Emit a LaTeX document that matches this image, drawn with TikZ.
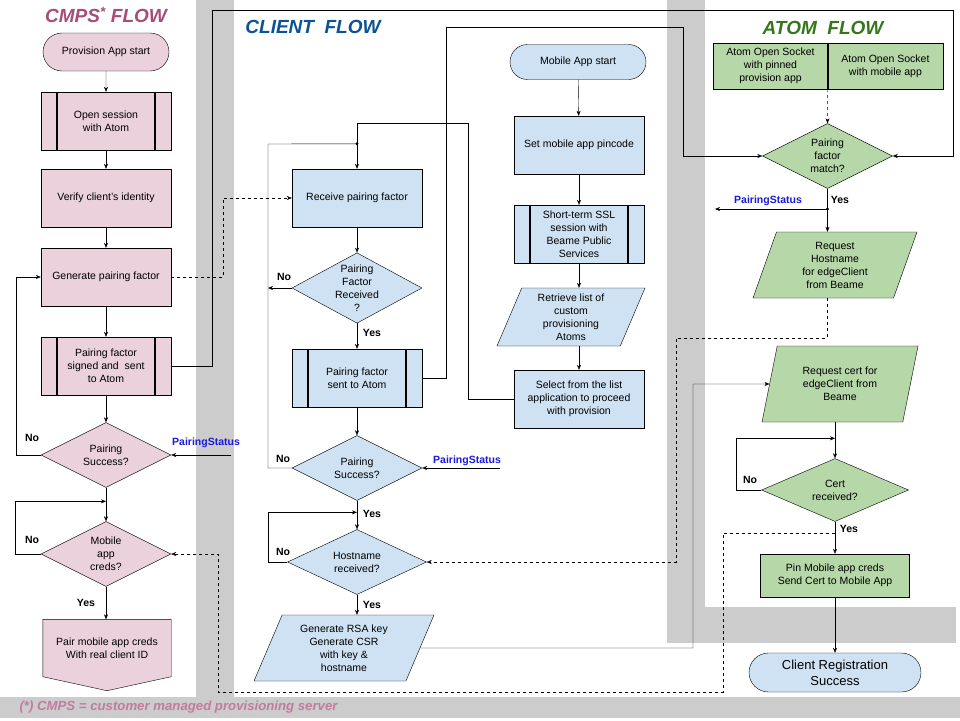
\documentclass[tikz,border=0pt]{standalone}
\usepackage{fontspec}
\setmainfont{Liberation Sans}
\usepackage{tikz}
\usetikzlibrary{arrows.meta,positioning,shapes.geometric,shapes.misc}
\usepackage{xcolor}
\definecolor{cmpspink}{HTML}{EAD1DC}
\definecolor{clientblue}{HTML}{CFE2F3}
\definecolor{atomgreen}{HTML}{B6D7A8}
\definecolor{bandgray}{HTML}{CCCCCC}
\definecolor{cmpstitle}{HTML}{A64D79}
\definecolor{clienttitle}{HTML}{0B5394}
\definecolor{atomtitle}{HTML}{38761D}
\definecolor{statusblue}{HTML}{1A1AD8}
\definecolor{notepink}{HTML}{C27BA0}
\newcommand{\nfont}{\fontsize{10.5pt}{13pt}\selectfont}
\pgfdeclarelayer{background}
\pgfsetlayers{background,main}

\begin{document}
\begin{tikzpicture}[x=1pt, y=-1pt, >={Stealth[length=5pt,width=4pt]}, line width=1.2pt,
  every node/.style={font=\nfont},
  proc/.style={draw, rectangle, minimum width=130pt, minimum height=58pt, align=center, inner sep=2pt},
  predef/.style={proc, path picture={
      \draw[line width=1.2pt] ([xshift=16pt]path picture bounding box.north west) -- ([xshift=16pt]path picture bounding box.south west);
      \draw[line width=1.2pt] ([xshift=-16pt]path picture bounding box.north east) -- ([xshift=-16pt]path picture bounding box.south east);}},
  term/.style={draw, rounded rectangle, minimum width=130pt, minimum height=38pt, align=center, inner sep=2pt},
  decision/.style={draw, diamond, minimum width=130pt, minimum height=65pt, align=center, inner sep=-5pt},
  io/.style={draw, trapezium, trapezium left angle=62, trapezium right angle=118, trapezium stretches body=true, align=center, inner sep=2pt},
  offpage/.style={rectangle, minimum width=128pt, minimum height=57pt, align=center, inner sep=2pt},
  title/.style={font=\fontsize{19pt}{22pt}\selectfont\bfseries\itshape},
  lbl/.style={font=\nfont\bfseries},
  status/.style={font=\nfont\bfseries, text=statusblue},
  note/.style={font=\fontsize{13.2pt}{15pt}\selectfont\bfseries\itshape, text=notepink}]
  \useasboundingbox (0,0) rectangle (960,720);
  % lanes
  \begin{pgfonlayer}{background}
    \fill[white] (0,0) rectangle (960,720);
    \fill[bandgray] (196,0) rectangle (234,697);
    \fill[bandgray] (667,0) rectangle (705,643);
    \fill[bandgray] (705,607) rectangle (956,643);
    \fill[bandgray] (0,697) rectangle (960,718);
  \end{pgfonlayer}
  \node[title, text=cmpstitle] (t_cmps) at (106,15) {CMPS\textsuperscript{*} FLOW};
  \node[title, text=clienttitle] (t_client) at (313,27) {CLIENT~~FLOW};
  \node[title, text=atomtitle] (t_atom) at (823,28) {ATOM~~FLOW};
  \node[note, anchor=west] (t_note) at (16,707) {(*) CMPS = customer managed provisioning server};

  % cmps flow
  \node[term, fill=cmpspink] (p_start) at (106,52) {Provision App start};
  \node[predef, fill=cmpspink] (p_open) at (106,121) {Open session\\with Atom};
  \node[proc, fill=cmpspink] (p_verify) at (106,198) {Verify client's identity};
  \node[proc, fill=cmpspink] (p_gen) at (106,277) {Generate pairing factor};
  \node[predef, fill=cmpspink] (p_sent) at (106,366) {Pairing factor\\signed and~ sent\\to Atom};
  \node[decision, fill=cmpspink] (p_succ) at (106,455) {Pairing\\Success?};
  \node[decision, fill=cmpspink] (p_creds) at (106,554) {Mobile\\app\\creds?};
  \node[offpage] (p_pair) at (107,648) {Pair mobile app creds\\With real client ID};
  \begin{pgfonlayer}{background}
    \draw[fill=cmpspink] (p_pair.north west) -- (p_pair.north east) -- (p_pair.south east)
      -- ([yshift=-14pt]p_pair.south) -- (p_pair.south west) -- cycle;
  \end{pgfonlayer}

  % client flow
  \node[proc, fill=clientblue] (c_recv) at (357,198) {Receive pairing factor};
  \node[decision, fill=clientblue] (c_pfr) at (357,288) {Pairing\\Factor\\Received\\?};
  \node[predef, fill=clientblue] (c_sent) at (357,378) {Pairing factor\\sent to Atom};
  \node[decision, fill=clientblue] (c_succ) at (357,468) {Pairing\\Success?};
  \node[decision, fill=clientblue, minimum width=139pt] (c_host) at (357,562) {Hostname\\received?};
  \node[io, fill=clientblue, minimum width=180pt, minimum height=66pt, trapezium left angle=61, trapezium right angle=119] (c_rsa) at (344,648) {Generate RSA key\\Generate CSR\\with key \&\\hostname};

  \node[term, fill=clientblue, minimum width=140pt, minimum height=35pt] (m_start) at (578,62) {Mobile App start};
  \node[proc, fill=clientblue] (m_pin) at (579,145) {Set mobile app pincode};
  \node[predef, fill=clientblue] (m_ssl) at (579,234) {Short-term SSL\\session with\\Beame Public\\Services};
  \node[io, fill=clientblue, minimum width=148pt, minimum height=58pt, trapezium left angle=64, trapezium right angle=116] (m_list) at (571,317) {Retrieve list of\\custom\\provisioning\\Atoms};
  \node[proc, fill=clientblue] (m_sel) at (579,399) {Select from the list\\application to proceed\\with provision};

  % atom flow
  \node[proc, fill=atomgreen, minimum width=114pt, minimum height=46pt] (a_sock1) at (770.5,66) {Atom Open Socket\\with pinned\\provision app};
  \node[proc, fill=atomgreen, minimum width=115pt, minimum height=46pt, right=0pt of a_sock1] (a_sock2) {Atom Open Socket\\with mobile app};
  \node[decision, fill=atomgreen] (a_match) at (827.5,156) {Pairing\\factor\\match?};
  \node[io, fill=atomgreen, minimum width=164pt, minimum height=66pt, trapezium left angle=65, trapezium right angle=115] (a_host) at (835,265) {Request\\Hostname\\for edgeClient\\from Beame};
  \node[io, fill=atomgreen, minimum width=156pt, minimum height=76pt, trapezium left angle=68, trapezium right angle=112] (a_cert) at (840,384) {Request cert for\\edgeClient from\\Beame};
  \node[decision, fill=atomgreen, minimum width=147pt, minimum height=63pt] (a_rcv) at (835,490) {Cert\\received?};
  \node[proc, fill=atomgreen, minimum width=149pt, minimum height=43pt] (a_pin) at (835,575.5) {Pin Mobile app creds\\Send Cert to Mobile App};
  \node[term, fill=clientblue, minimum width=176pt, minimum height=39pt, font=\fontsize{13pt}{16pt}\selectfont] (a_done) at (835,672.5) {Client Registration\\Success};

  % cmps connectors
  \draw[->] (p_start) -- (p_open);
  \draw[->] (p_open) -- (p_verify);
  \draw[->] (p_verify) -- (p_gen);
  \draw[->] (p_gen) -- (p_sent);
  \draw[->] (p_sent) -- (p_succ);
  \draw[->] (p_succ) -- (p_creds);
  \draw[->] (p_creds.south) -- (p_creds.south |- p_pair.north);
  \draw[->] (p_succ.west) -- ++(-25pt,0) |- (p_gen.west);
  \coordinate (p_loop) at ([yshift=20pt]p_creds.north);
  \draw[->] (p_creds.west) -- ++(-26pt,0) |- (p_loop);
  \coordinate (p_status) at (231,455);
  \draw[->] (p_status) -- (p_succ.east);
  \draw[->, dashed] (p_gen.east) -- ++(52pt,0) |- (c_recv.west);
  \draw[->] (p_sent.east) -| (212,10) -| ([xshift=60pt]a_match.east) -- (a_match.east);

  % client connectors
  \draw[->] (c_recv) -- (c_pfr);
  \draw[->] (c_pfr) -- (c_sent);
  \draw[->] (c_sent) -- (c_succ);
  \draw[->] (c_succ) -- (c_host);
  \draw[->] (c_host.south) -- (c_host.south |- c_rsa.north);
  \coordinate (c_join) at ([yshift=25pt]c_recv.north);
  \coordinate (c_left) at (268,144);
  \draw (c_succ.west) -| (c_left) -- (c_join);
  \fill (c_join) circle (1.6pt);
  \draw[->] (c_pfr.west) -- (c_pfr.west -| c_left);
  \draw[->] (m_sel.west) -| (468,123) -| (c_recv.north);
  \coordinate (c_loop) at ([yshift=17pt]c_host.north);
  \draw[->] (c_host.west) -| (c_left |- c_loop) -- (c_loop);
  \draw[->] (c_sent.east) -| (446,27) -| ([xshift=-79pt]a_match.west) -- (a_match.west);
  \coordinate (c_status) at (500,468);
  \draw[->] (c_status) -- (c_succ.east);
  \draw[->] (c_rsa.east) -| (693,384) -- (a_cert.west);
  \draw[->] (m_start) -- (m_pin);
  \draw[->] (m_pin) -- (m_ssl);
  \draw[->] (m_ssl.south) -- (m_ssl.south |- m_list.north);
  \draw[->] (m_sel.north |- m_list.south) -- (m_sel.north);

  % atom connectors
  \draw[->, dashed] (a_sock1.south east) -- (a_match.north);
  \draw[->] (a_match.south) -- (a_match.south |- a_host.north);
  \coordinate (a_status) at (715,209);
  \draw[->] (a_match.south |- a_status) -- (a_status);
  \fill (a_match.south |- a_status) circle (1.6pt);
  \draw[->, dashed] (a_match.south |- a_host.south) |- (676,338) |- (c_host.east);
  \draw[->] (a_rcv.north |- a_cert.south) -- (a_rcv.north);
  \coordinate (a_loop) at ([yshift=20pt]a_rcv.north);
  \draw[->] (a_rcv.west) -| ([xshift=-99pt]a_loop) -- (a_loop);
  \draw[->] (a_rcv) -- (a_pin);
  \draw[->] (a_pin) -- (a_done);
  \coordinate (a_join) at ([yshift=21pt]a_pin.north);
  \draw[->, dashed] (a_join) -| (723,692) -| (218,554) -- (p_creds.east);

  % labels
  \node[lbl] (l_no1) at (32,438) {No};
  \node[lbl] (l_no2) at (32,540) {No};
  \node[lbl] (l_yes1) at (86,603) {Yes};
  \node[lbl] (l_no3) at (284,277) {No};
  \node[lbl] (l_yes2) at (372,333) {Yes};
  \node[lbl] (l_no4) at (283,459) {No};
  \node[lbl] (l_yes3) at (372,514) {Yes};
  \node[lbl] (l_no5) at (283,552) {No};
  \node[lbl] (l_yes4) at (372,605) {Yes};
  \node[lbl] (l_yes5) at (840,200) {Yes};
  \node[lbl] (l_no6) at (750,480) {No};
  \node[lbl] (l_yes6) at (849,529) {Yes};
  \node[status] (s_cmps) at (206,443) {PairingStatus};
  \node[status] (s_client) at (467,461) {PairingStatus};
  \node[status] (s_atom) at (768,201) {PairingStatus};
\end{tikzpicture}
\end{document}
